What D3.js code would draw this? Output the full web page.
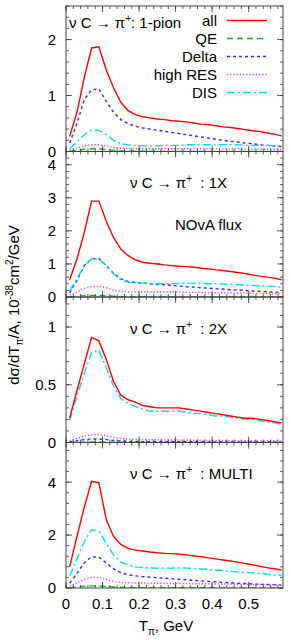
<!DOCTYPE html>
<html>
<head>
<meta charset="utf-8">
<script src="https://cdn.jsdelivr.net/npm/d3@7"></script>
<style>
body { margin: 0; background: #fff; }
text { font-family: "Liberation Sans", Arial, sans-serif; }
</style>
</head>
<body>
<div id="chart"></div>
<script>
// pion kinetic energy grid, GeV
let tPi = [0.01,0.03,0.05,0.07,0.09,0.11,0.13,0.15,0.17,0.19,0.21,0.23,0.25,0.27,0.29,0.31,0.33,0.35,0.37,0.39,0.41,0.43,0.45,0.47,0.49,0.51,0.53,0.55,0.57,0.59]

let xTicks = [0, 0.1, 0.2, 0.3, 0.4, 0.5]

// panel 1 : 1-pion
let p1All   = [0.27,0.7,1.32,1.85,1.87,1.46,1.14,0.88,0.73,0.66,0.62,0.6,0.58,0.57,0.55,0.54,0.53,0.51,0.49,0.48,0.46,0.44,0.43,0.41,0.39,0.37,0.36,0.33,0.31,0.28]
let p1QE    = [0.005,0.02,0.04,0.05,0.05,0.035,0.02,0.012,0.008,0.006,0.005,0.004,0.004,0.003,0.003,0.003,0.002,0.002,0.002,0.002,0.002,0.001,0.001,0.001,0.001,0.001,0.001,0.001,0.001,0.001]
let p1Delta = [0.15,0.5,0.93,1.1,1.12,0.9,0.7,0.57,0.5,0.45,0.42,0.4,0.38,0.36,0.34,0.32,0.3,0.28,0.26,0.24,0.22,0.2,0.18,0.17,0.15,0.14,0.12,0.11,0.1,0.09]
let p1RES   = [0.02,0.06,0.1,0.12,0.12,0.1,0.075,0.06,0.055,0.05,0.05,0.05,0.05,0.05,0.05,0.05,0.05,0.05,0.05,0.048,0.047,0.046,0.045,0.044,0.043,0.042,0.041,0.04,0.04,0.04]
let p1DIS   = [0.05,0.17,0.3,0.38,0.38,0.3,0.2,0.14,0.12,0.11,0.1,0.1,0.1,0.11,0.11,0.11,0.12,0.12,0.12,0.12,0.12,0.12,0.12,0.12,0.11,0.11,0.11,0.11,0.1,0.1]

// panel 2 : 1X
let p2All   = [0.52,1.15,1.95,2.9,2.9,2.3,1.8,1.45,1.25,1.12,1.05,1.02,1.0,0.97,0.95,0.93,0.92,0.9,0.87,0.85,0.82,0.8,0.77,0.74,0.71,0.67,0.63,0.6,0.57,0.52]
let p2QE    = [0.005,0.02,0.04,0.05,0.05,0.04,0.025,0.015,0.01,0.008,0.006,0.005,0.005,0.004,0.004,0.004,0.003,0.003,0.003,0.003,0.002,0.002,0.002,0.002,0.002,0.002,0.002,0.001,0.001,0.001]
let p2Delta = [0.12,0.5,0.95,1.15,1.17,0.95,0.72,0.55,0.47,0.44,0.42,0.4,0.38,0.37,0.35,0.33,0.31,0.3,0.28,0.27,0.25,0.24,0.22,0.21,0.2,0.18,0.17,0.16,0.15,0.13]
let p2RES   = [0.06,0.15,0.26,0.32,0.33,0.28,0.21,0.17,0.16,0.15,0.15,0.15,0.15,0.15,0.15,0.15,0.14,0.14,0.14,0.13,0.13,0.13,0.12,0.12,0.12,0.11,0.11,0.11,0.1,0.1]
let p2DIS   = [0.18,0.55,0.95,1.15,1.15,0.95,0.7,0.52,0.45,0.43,0.42,0.41,0.4,0.4,0.41,0.41,0.42,0.42,0.41,0.4,0.4,0.39,0.38,0.37,0.36,0.35,0.34,0.33,0.32,0.3]

// panel 3 : 2X
let p3All   = [0.21,0.45,0.68,0.91,0.88,0.72,0.53,0.41,0.37,0.35,0.32,0.31,0.3,0.3,0.3,0.3,0.29,0.28,0.27,0.26,0.25,0.24,0.23,0.22,0.21,0.21,0.2,0.19,0.18,0.17]
let p3QE    = [0.001,0.002,0.003,0.004,0.004,0.003,0.002,0.002,0.001,0.001,0.001,0.001,0.001,0.001,0.001,0.001,0.001,0.001,0.001,0.001,0.001,0.001,0.001,0.001,0.001,0.001,0.001,0.001,0.001,0.001]
let p3Delta = [0.005,0.015,0.025,0.03,0.03,0.025,0.018,0.013,0.01,0.009,0.008,0.008,0.007,0.007,0.007,0.006,0.006,0.006,0.006,0.005,0.005,0.005,0.005,0.005,0.004,0.004,0.004,0.004,0.004,0.004]
let p3RES   = [0.015,0.035,0.055,0.068,0.07,0.06,0.045,0.035,0.03,0.027,0.025,0.024,0.023,0.022,0.022,0.021,0.02,0.02,0.019,0.018,0.018,0.017,0.016,0.016,0.015,0.015,0.014,0.014,0.013,0.013]
let p3DIS   = [0.19,0.4,0.6,0.78,0.8,0.65,0.49,0.38,0.34,0.31,0.29,0.27,0.27,0.27,0.27,0.27,0.26,0.25,0.25,0.24,0.23,0.23,0.22,0.21,0.2,0.2,0.19,0.18,0.17,0.16]

// panel 4 : MULTI
let p4All   = [0.8,1.95,3.05,4.03,3.98,2.6,1.95,1.65,1.5,1.43,1.4,1.36,1.33,1.31,1.3,1.28,1.25,1.21,1.18,1.14,1.1,1.06,1.02,0.98,0.93,0.88,0.82,0.77,0.73,0.68]
let p4QE    = [0.01,0.04,0.07,0.08,0.08,0.06,0.04,0.03,0.02,0.015,0.012,0.01,0.01,0.009,0.009,0.008,0.008,0.007,0.007,0.007,0.006,0.006,0.006,0.006,0.005,0.005,0.005,0.005,0.005,0.005]
let p4Delta = [0.18,0.55,0.95,1.18,1.17,0.95,0.72,0.58,0.5,0.46,0.43,0.41,0.39,0.37,0.35,0.33,0.31,0.29,0.27,0.25,0.23,0.21,0.2,0.18,0.17,0.15,0.14,0.13,0.12,0.11]
let p4RES   = [0.08,0.2,0.33,0.4,0.4,0.33,0.25,0.21,0.2,0.19,0.19,0.18,0.18,0.18,0.17,0.17,0.17,0.16,0.16,0.16,0.15,0.15,0.15,0.14,0.14,0.13,0.13,0.13,0.12,0.12]
let p4DIS   = [0.45,1.1,1.75,2.2,2.15,1.7,1.25,0.98,0.87,0.8,0.77,0.76,0.75,0.75,0.75,0.76,0.75,0.74,0.72,0.7,0.68,0.66,0.63,0.61,0.59,0.57,0.55,0.52,0.5,0.48]

let seriesNames = ['all', 'QE', 'Delta', 'high RES', 'DIS']
let seriesColors = ['#ff0000', '#00c000', '#2a2aff', '#ff30ff', '#00e0e0']
let seriesDash = ['', '6,4', '3,3', '1.2,2', '8,3,2,3']

let panels = [
	{ label: ': 1-pion', yMax: 2.6, yTicks: [0, 1, 2], minor: 0.2, series: [p1All, p1QE, p1Delta, p1RES, p1DIS] },
	{ label: ': 1X', yMax: 4.4, yTicks: [0, 1, 2, 3, 4], minor: 0.2, series: [p2All, p2QE, p2Delta, p2RES, p2DIS] },
	{ label: ': 2X', yMax: 1.26, yTicks: [0, 0.5, 1], minor: 0.1, series: [p3All, p3QE, p3Delta, p3RES, p3DIS] },
	{ label: ': MULTI', yMax: 5.5, yTicks: [0, 2, 4], minor: 0.4, series: [p4All, p4QE, p4Delta, p4RES, p4DIS] }
]

let width = 291
let height = 640
let plotLeft = 66
let plotRight = 283
let plotTop = 6
let panelH = 145.5
let fs = 15

const svg = d3.select('#chart')
	.append('svg')
	.attr('width', width)
	.attr('height', height)

let xScale = d3.scaleLinear()
	.domain([0, 0.594])
	.range([plotLeft, plotRight])

let line = d3.line()
	.x((d, i) => xScale(tPi[i]))

let xMinor = d3.range(0, 0.5901, 0.02)

panels.forEach(function(p, k){

	let y0 = plotTop + k * panelH
	let yScale = d3.scaleLinear()
		.domain([0, p.yMax])
		.range([y0 + panelH, y0])

	let g = svg.append('g')

	let clipId = 'clip' + k
	g.append('clipPath').attr('id', clipId)
		.append('rect')
		.attr('x', plotLeft).attr('y', y0)
		.attr('width', plotRight - plotLeft).attr('height', panelH)

	// curves, drawn QE first so 'all' sits on top
	let order = [1, 2, 3, 4, 0]
	order.forEach(function(s){
		g.append('path')
			.datum(p.series[s])
			.attr('d', line.y(d => yScale(d)))
			.attr('clip-path', 'url(#' + clipId + ')')
			.attr('fill', 'none')
			.attr('stroke', seriesColors[s])
			.attr('stroke-width', 1.4)
			.attr('stroke-dasharray', seriesDash[s])
	})

	// y ticks, mirrored on the right
	let yMinor = d3.range(0, p.yMax + 1e-9, p.minor)
	g.selectAll('.yMinor')
		.data(yMinor)
		.enter()
		.append('path')
		.attr('d', d => `M${plotLeft},${yScale(d)}h3M${plotRight},${yScale(d)}h-3`)
		.attr('stroke', '#333')
		.attr('stroke-width', 0.8)
	g.selectAll('.yMajor')
		.data(p.yTicks)
		.enter()
		.append('path')
		.attr('d', d => `M${plotLeft},${yScale(d)}h6M${plotRight},${yScale(d)}h-6`)
		.attr('stroke', '#333')
		.attr('stroke-width', 0.8)
	g.selectAll('.yLab')
		.data(p.yTicks)
		.enter()
		.append('text')
		.attr('x', plotLeft - 10)
		.attr('y', d => yScale(d))
		.attr('dy', '0.36em')
		.attr('text-anchor', 'end')
		.attr('font-size', fs)
		.text(d => d)

	// x ticks, bottom and top of each panel
	let yb = y0 + panelH
	g.selectAll('.xMinor')
		.data(xMinor)
		.enter()
		.append('path')
		.attr('d', d => `M${xScale(d)},${yb}v-3M${xScale(d)},${y0}v3`)
		.attr('stroke', '#333')
		.attr('stroke-width', 0.8)
	g.selectAll('.xMajor')
		.data(xTicks)
		.enter()
		.append('path')
		.attr('d', d => `M${xScale(d)},${yb}v-6M${xScale(d)},${y0}v6`)
		.attr('stroke', '#333')
		.attr('stroke-width', 0.8)

	g.append('rect')
		.attr('x', plotLeft).attr('y', y0)
		.attr('width', plotRight - plotLeft).attr('height', panelH)
		.attr('fill', 'none')
		.attr('stroke', '#444')
		.attr('stroke-width', 1)

	// panel label
	let tx = k == 0 ? 69 : 130
	let ty = k == 0 ? y0 + 22 : y0 + 36.5
	let t = g.append('text')
		.attr('x', tx).attr('y', ty)
		.attr('font-size', fs)
	t.append('tspan').text('\u03bd C \u2192 \u03c0')
	t.append('tspan').attr('dy', -6).attr('font-size', 10).text('+')
	t.append('tspan').attr('dy', 6).text(k == 0 ? p.label : '\u00a0 ' + p.label)
})

// NOvA flux note
svg.append('text')
	.attr('x', 175).attr('y', plotTop + panelH + 78.5)
	.attr('font-size', fs)
	.text('NOvA flux')

// legend in first panel
seriesNames.forEach(function(name, s){
	let ly = 20.5 + s * 18
	svg.append('text')
		.attr('x', 217).attr('y', ly)
		.attr('dy', '0.36em')
		.attr('text-anchor', 'end')
		.attr('font-size', fs)
		.text(name)
	svg.append('line')
		.attr('x1', 227).attr('x2', 267)
		.attr('y1', ly).attr('y2', ly)
		.attr('stroke', seriesColors[s])
		.attr('stroke-width', 1.4)
		.attr('stroke-dasharray', seriesDash[s])
})

// x tick labels under the last panel
let xb = plotTop + 4 * panelH
svg.selectAll('.xLab')
	.data(xTicks)
	.enter()
	.append('text')
	.attr('x', d => xScale(d))
	.attr('y', xb + 21)
	.attr('text-anchor', 'middle')
	.attr('font-size', fs)
	.text(d => d)

let xl = svg.append('text')
	.attr('x', 166).attr('y', xb + 43)
	.attr('text-anchor', 'middle')
	.attr('font-size', fs)
xl.append('tspan').text('T')
xl.append('tspan').attr('dy', 4).attr('font-size', 10).text('\u03c0')
xl.append('tspan').attr('dy', -4).text(', GeV')

// y axis title
let yl = svg.append('text')
	.attr('transform', `translate(19,${plotTop + 2 * panelH + 8}) rotate(-90)`)
	.attr('text-anchor', 'middle')
	.attr('font-size', fs)
yl.append('tspan').text('d\u03c3/dT')
yl.append('tspan').attr('dy', 4).attr('font-size', 10).text('\u03c0')
yl.append('tspan').attr('dy', -4).text('/A, 10')
yl.append('tspan').attr('dy', -6).attr('font-size', 10).text('-38')
yl.append('tspan').attr('dy', 6).text('cm')
yl.append('tspan').attr('dy', -6).attr('font-size', 10).text('2')
yl.append('tspan').attr('dy', 6).text('/GeV')
</script>
</body>
</html>
